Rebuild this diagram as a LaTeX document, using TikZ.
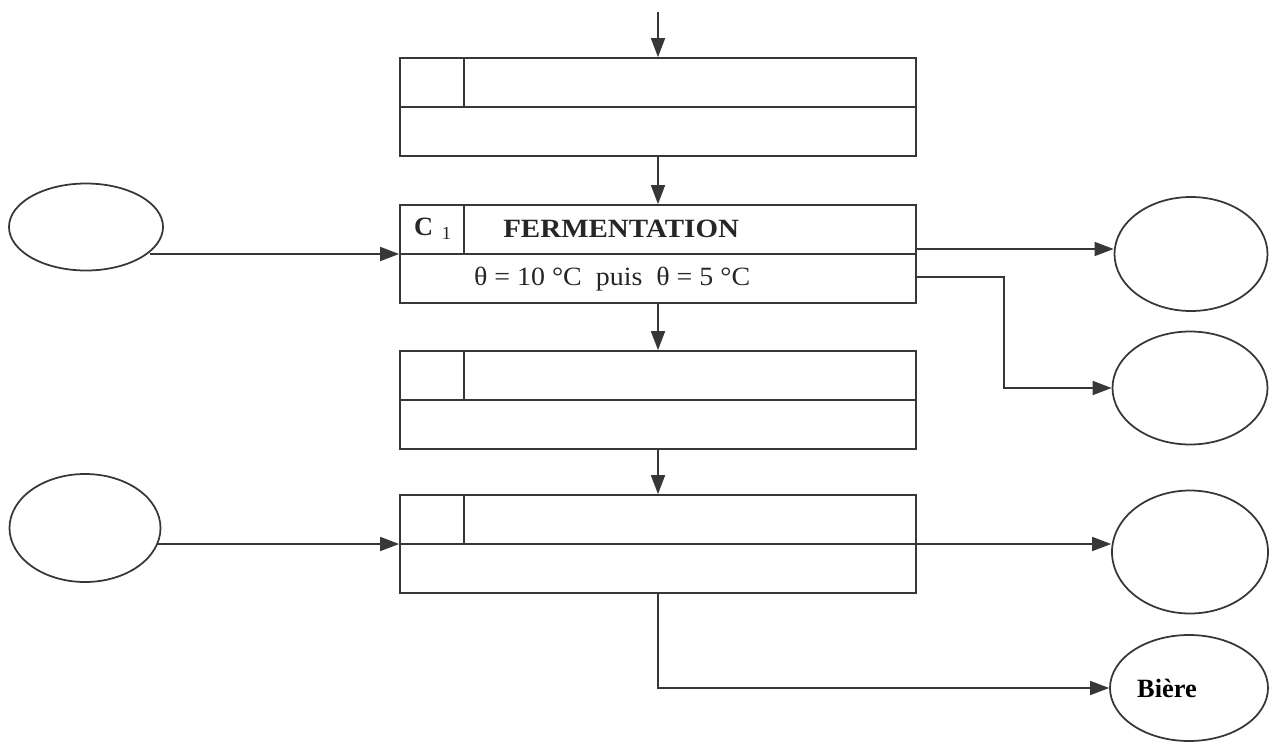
\documentclass[tikz,border=0pt]{standalone}
\usepackage{fontspec}
\setmainfont{Liberation Serif}
\usetikzlibrary{arrows.meta, positioning, calc, shapes.geometric}
\definecolor{inkGray}{RGB}{55, 55, 55}
\tikzset{
  opbox/.style={
    draw=inkGray, line width=1pt, rectangle,
    minimum width=103.2mm, minimum height=19.6mm, inner sep=0pt,
  },
  flowend/.style={
    draw=inkGray, line width=1pt, ellipse, inner sep=0pt,
    font=\fontsize{15}{18}\selectfont\bfseries,
  },
  boxtext/.style={
    font=\fontsize{15}{18}\selectfont, text=black!85, inner sep=0pt,
  },
  divider/.style={draw=inkGray, line width=1pt},
  flow/.style={
    -{Triangle[length=3.8mm, width=2.8mm]}, draw=inkGray, line width=1pt,
  },
}

\begin{document}
\begin{tikzpicture}[x=0.2mm, y=-0.2mm]

\useasboundingbox (0,0) rectangle (1273,744);

% =========================================================================
% 4 operation boxes, stacked
% =========================================================================

\node[opbox] (op1) at (658,107) {};
\node[opbox] (op2) at (658,254) {};
\node[opbox] (op3) at (658,400) {};
\node[opbox] (op4) at (658,544) {};

\foreach \n in {op1, op2, op3, op4}{
  \draw[divider] (\n.west) -- (\n.east);
  \draw[divider] ([xshift=13mm]\n.north west) -- ([xshift=13mm]\n.west);
}

\node[boxtext, font=\fontsize{15}{18}\selectfont\bfseries]
  (c1) at ([xshift=6.8mm, yshift=-4.9mm]op2.north west)
  {C\,\,\textsubscript{\mdseries 1}};
\node[boxtext, font=\fontsize{15}{18}\selectfont\bfseries]
  (fermtitle) at ([xshift=44.4mm, yshift=-4.9mm]op2.north west)
  {\scalebox{1.1}[1]{FERMENTATION}};
\node[boxtext] (fermtemp) at ([xshift=42.6mm, yshift=4.9mm]op2.south west)
  {\scalebox{1.06}[1]{θ = 10 °C\ \ puis\ \ θ = 5 °C}};

% =========================================================================
% inputs on the left, outputs on the right
% =========================================================================

\node[flowend, minimum width=30.8mm, minimum height=17.4mm] (in1) at (86,227) {};
\node[flowend, minimum width=30.2mm, minimum height=21.6mm] (in2) at (85,528) {};

\node[flowend, minimum width=30.6mm, minimum height=22.8mm] (out1) at (1191,254) {};
\node[flowend, minimum width=31mm,   minimum height=22.6mm] (out2) at (1190,388) {};
\node[flowend, minimum width=31.2mm, minimum height=24.6mm] (out3) at (1190,552) {};
\node[flowend, minimum width=31.6mm, minimum height=21.2mm] (biere) at (1189,688)
  {\hspace*{-8.8mm}Bière};

% =========================================================================
% arrows
% =========================================================================

\coordinate (feed) at (658,12);
\draw[flow] (feed) -- (op1.north);
\draw[flow] (op1.south) -- (op2.north);
\draw[flow] (op2.south) -- (op3.north);
\draw[flow] (op3.south) -- (op4.north);

\draw[flow] (in1.-22 |- op2.west) -- (op2.west);
\draw[flow] (in2.-15 |- op4.west) -- (op4.west);

\coordinate (gasout) at ([yshift=1mm]op2.east);
\coordinate (sedout) at ([yshift=-4.6mm]op2.east);
\draw[flow] (gasout) -- (gasout -| out1.west);
\draw[flow] (sedout) -- ++(87,0) |- (out2.west);

\draw[flow] (op4.east) -- (op4.east -| out3.west);
\draw[flow] (op4.south) |- (biere.west);

\end{tikzpicture}
\end{document}
